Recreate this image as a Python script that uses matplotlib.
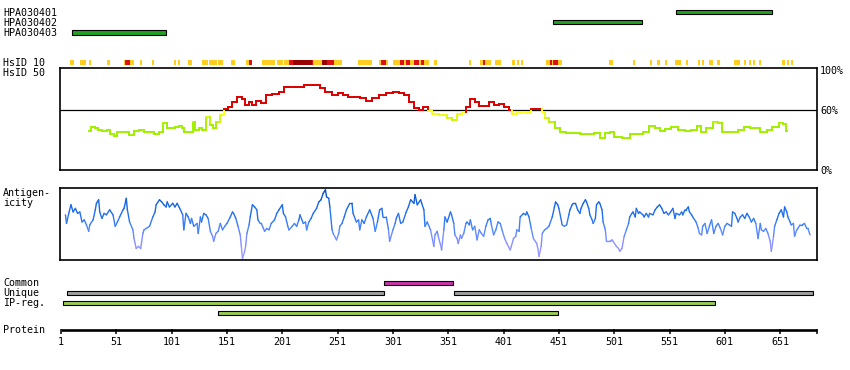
import numpy as np
import matplotlib
matplotlib.use("Agg")
import matplotlib.pyplot as plt
from matplotlib.collections import LineCollection
from matplotlib.colors import LinearSegmentedColormap, to_rgb

plt.rcParams['font.family'] = ['DejaVu Sans Mono']
plt.rcParams['font.size'] = 7.2

protein_length = 684

# antibody antigens (residue ranges)
antibody_names = ["HPA030401", "HPA030402", "HPA030403"]
antibody_start = [557, 446, 11]
antibody_end = [644, 526, 96]

# HsID 10 strip, one list per identity class
hsid10_yellow = [(9, 13), (18, 24), (26, 28), (43, 45), (58, 67), (72, 74), (83, 85),
                 (103, 105), (107, 109), (116, 119), (128, 134), (135, 142), (143, 147),
                 (155, 158), (168, 174), (183, 194), (196, 202), (203, 207), (229, 237),
                 (248, 255), (269, 282), (288, 297), (301, 334), (338, 341), (370, 372),
                 (380, 390), (393, 399), (409, 411), (413, 415), (417, 419), (439, 454),
                 (496, 500), (518, 520), (533, 535), (540, 542), (547, 549), (556, 561),
                 (566, 568), (577, 579), (580, 582), (587, 590), (594, 597), (609, 615),
                 (618, 620), (623, 625), (626, 628), (632, 634), (653, 655), (657, 659),
                 (661, 663)]
hsid10_red = [(59, 63), (171, 174), (207, 211), (228, 229), (241, 248), (290, 295),
              (307, 311), (313, 316), (320, 325), (326, 329), (382, 384), (443, 445),
              (446, 450)]
hsid10_darkred = [(211, 228), (237, 241)]

# HsID 50 identity (%)
hsid50_pos = [26, 30, 33, 36, 41, 44, 47, 50, 53, 60,
              65, 69, 74, 78, 83, 87, 92, 95, 98, 102,
              106, 109, 111, 114, 119, 121, 124, 127, 130, 135,
              137, 140, 143, 146, 150, 154, 158, 163, 166, 169,
              172, 175, 179, 184, 188, 196, 200, 205, 210, 217,
              225, 233, 238, 242, 249, 253, 258, 263, 269, 274,
              280, 285, 291, 298, 304, 309, 313, 318, 323, 326,
              331, 334, 339, 347, 353, 356, 361, 366, 369, 373,
              377, 380, 385, 390, 394, 399, 404, 407, 410, 415,
              421, 424, 427, 434, 437, 440, 445, 450, 454, 461,
              480, 486, 491, 495, 499, 503, 513, 518, 524, 530,
              535, 540, 544, 549, 556, 562, 568, 573, 578, 581,
              587, 593, 597, 600, 609, 617, 620, 628, 638, 641,
              647, 652, 655, 657]
hsid50_val = [39.5, 43.6, 41.9, 40.2, 39.2, 40.2, 36.2, 34.2, 38.5, 38.2,
              35.2, 39.5, 40.2, 37.9, 38.5, 36.2, 38.2, 46.9, 41.9, 42.5,
              43.6, 44.2, 41.9, 38.5, 38.5, 48.6, 40.2, 42.5, 40.2, 52.9,
              45.2, 41.9, 48.6, 55.3, 61, 63.6, 68.7, 73, 71, 65.3,
              68.7, 65.3, 69.7, 67.7, 75.4, 76.4, 78.7, 83.8, 83.1, 83.8,
              85.4, 85.4, 82.1, 78.1, 75.4, 77.1, 75.4, 73.7, 73, 72,
              69.7, 72, 75.4, 77.7, 78.7, 77.7, 75.4, 68.7, 62, 60.3,
              63.6, 59.6, 56.3, 55.3, 51.9, 50.3, 56.3, 58.6, 63.6, 71,
              68.7, 64.3, 64.3, 68.7, 65.3, 66.3, 63.6, 60.3, 56.3, 57.6,
              58.6, 57, 61, 61, 58.6, 51.9, 48.6, 41.9, 38.5, 36.9,
              36.2, 36.9, 31.8, 36.9, 38.5, 32.8, 31.8, 36.2, 36.2, 38.5,
              44.2, 41.9, 39.5, 40.9, 43.6, 40.2, 39.5, 40.2, 44.2, 38.5,
              41.9, 48.6, 46.9, 38.5, 38.5, 40.2, 42.9, 41.9, 38.5, 40.2,
              43.6, 46.9, 46.2, 39.5]

# antigenicity profile (relative score, 0-100)
antigen_pos = [5, 6, 8, 10, 12, 14, 16, 18, 20, 22,
               24, 26, 27, 30, 32, 33, 35, 36, 38, 40,
               42, 45, 48, 50, 52, 54, 57, 58, 60, 61,
               63, 66, 67, 69, 71, 73, 75, 76, 78, 81,
               84, 86, 87, 90, 92, 94, 96, 97, 99, 102,
               104, 106, 109, 111, 112, 114, 116, 118, 119, 121,
               124, 125, 127, 128, 130, 132, 134, 136, 138, 139,
               141, 143, 145, 147, 149, 151, 154, 156, 157, 159,
               161, 163, 164, 165, 167, 168, 169, 171, 172, 174,
               176, 178, 179, 181, 182, 184, 185, 187, 189, 191,
               194, 196, 198, 201, 202, 204, 206, 207, 210, 212,
               214, 216, 217, 220, 222, 223, 225, 227, 229, 232,
               234, 236, 238, 240, 241, 243, 244, 246, 247, 250,
               252, 253, 255, 257, 259, 262, 264, 265, 268, 270,
               271, 273, 275, 277, 280, 283, 285, 287, 289, 291,
               292, 295, 297, 298, 301, 303, 304, 306, 308, 310,
               313, 315, 317, 320, 321, 323, 326, 327, 329, 330,
               332, 335,
               338, 339, 341, 342, 344, 345, 347, 348, 350, 353,
               354, 356, 357, 359, 360, 362, 363, 365, 367, 368,
               370, 371, 373, 375, 377, 379, 381, 383, 385, 387,
               389, 390, 392, 394, 396, 398, 400, 402, 404, 407,
               408, 410, 412, 413, 415, 416, 419, 421, 422, 424,
               426, 428, 431, 432, 433, 435, 436, 438, 440, 442,
               445, 447, 448, 450, 451, 454, 456, 458, 460, 461,
               463, 464, 466, 468, 470, 471, 473, 475, 476, 478,
               479, 481, 482, 484, 485, 487, 488, 490, 491, 493,
               494, 497, 499, 500, 503, 505, 506, 508, 510, 512,
               514, 515, 517, 518, 520, 521, 523, 524, 527, 528,
               530, 532, 533, 536, 538, 540, 542, 544, 546, 548,
               550, 552, 554, 556, 557, 560, 562, 563, 565, 566,
               568, 569, 571, 572, 575, 577, 578, 580, 581, 583,
               585, 587, 589, 591, 593, 595, 597, 599, 601, 603,
               605, 607, 608, 610, 612, 613, 615, 617, 619, 621,
               623, 625, 627, 629, 631, 633, 634, 636, 638, 640,
               642, 643, 645, 646, 648, 650, 652, 654, 655, 657,
               658, 660, 661, 663, 664, 666, 667, 669, 671, 673,
               675, 676, 678]
antigen_val = [63, 51, 65, 77, 67, 72, 65, 67, 53, 56,
               49, 40, 49, 56, 70, 79, 84, 67, 58, 65,
               63, 70, 63, 47, 53, 60, 70, 72, 86, 70,
               53, 42, 30, 16, 19, 16, 37, 42, 44, 47,
               60, 67, 77, 84, 81, 77, 74, 81, 74, 79,
               74, 79, 70, 63, 42, 65, 60, 51, 58, 47,
               51, 37, 60, 53, 65, 63, 58, 40, 33, 26,
               37, 40, 51, 42, 47, 51, 60, 67, 65, 58,
               47, 35, 19, 2, 12, 21, 37, 49, 60, 77,
               74, 70, 56, 51, 51, 44, 40, 44, 42, 51,
               56, 65, 70, 77, 65, 60, 47, 42, 47, 51,
               47, 56, 63, 51, 53, 42, 53, 58, 65, 72,
               81, 84, 93, 98, 88, 86, 74, 42, 37, 28,
               37, 47, 51, 60, 70, 79, 79, 65, 53, 56,
               42, 56, 51, 60, 70, 58, 40, 53, 70, 72,
               60, 60, 42, 26, 42, 51, 58, 65, 51, 53,
               67, 74, 84, 79, 91, 77, 84, 79, 70, 47,
               53, 42,
               19, 35, 40, 33, 21, 14, 42, 60, 53, 67,
               63, 51, 35, 30, 23, 35, 30, 37, 51, 53,
               49, 56, 42, 47, 28, 42, 37, 33, 47, 56,
               58, 49, 35, 42, 53, 51, 40, 30, 23, 14,
               19, 30, 33, 42, 40, 60, 65, 63, 67, 60,
               44, 30, 23, 16, 5, 19, 37, 42, 44, 47,
               60, 74, 81, 77, 72, 49, 47, 49, 63, 70,
               77, 79, 79, 70, 65, 72, 79, 84, 81, 72,
               63, 56, 51, 58, 77, 81, 79, 70, 53, 42,
               26, 26, 28, 26, 19, 16, 12, 16, 33, 42,
               51, 60, 65, 67, 60, 72, 65, 67, 63, 60,
               65, 60, 65, 63, 70, 74, 77, 72, 65, 67,
               63, 67, 72, 58, 65, 63, 67, 63, 70, 70,
               74, 67, 63, 60, 53, 44, 37, 35, 47, 51,
               37, 47, 56, 37, 47, 51, 44, 35, 47, 51,
               49, 47, 67, 65, 58, 53, 60, 63, 58, 65,
               60, 53, 58, 51, 30, 51, 42, 40, 44, 37,
               26, 12, 33, 47, 56, 65, 70, 60, 74, 67,
               60, 53, 49, 51, 33, 42, 44, 49, 49, 51,
               44, 44, 35]

# region tracks
common_regions = [(293, 355)]
unique_regions = [(6, 293), (356, 681)]
ipreg_regions = [(3, 592), (143, 450)]
tick_residues = list(range(1, 652, 50))

# ---- layout -------------------------------------------------------------
W, H = 850, 370
PX_PER_RES = 1.1064
RES1_PX = 61


def res_at(px):
    return 1 + (px - RES1_PX) / PX_PER_RES


def steps(x, y):
    x = np.asarray(x, float)
    y = np.asarray(y, float)
    mid = (x[:-1] + x[1:]) / 2
    xs = np.concatenate([[x[0]], np.repeat(mid, 2), [x[-1]]])
    ys = np.repeat(y, 2)
    pts = np.column_stack([xs, ys])
    return np.stack([pts[:-1], pts[1:]], axis=1)


def polyline(x, y):
    pts = np.column_stack([np.asarray(x, float), np.asarray(y, float)])
    return np.stack([pts[:-1], pts[1:]], axis=1)


def hsid_color(v):
    if v >= 60:
        return to_rgb('#dd0000')
    t = np.clip((v - 45) / 13.0, 0, 1)
    g = np.array(to_rgb('#a0f000'))
    yl = np.array(to_rgb('#ffff20'))
    return tuple(g + (yl - g) * t)


fig = plt.figure(figsize=(W / 100, H / 100), dpi=100)
base = fig.add_axes([0, 0, 1, 1])
base.set_xlim(res_at(0), res_at(W))
base.set_ylim(H, 0)
base.axis('off')

lx = res_at(3)
for name, yb in zip(antibody_names, [16.5, 26.5, 36.2]):
    base.text(lx, yb, name, va='baseline', ha='left')
for lab, yb in [("HsID 10", 65.7), ("HsID 50", 75.7), ("Antigen-", 195.7),
                ("icity", 205.8), ("Common", 286), ("Unique", 296),
                ("IP-reg.", 306), ("Protein", 333.3)]:
    base.text(lx, yb, lab, va='baseline', ha='left')

# antibody bars
base.barh([12.3, 22.3, 32.5], np.array(antibody_end) - np.array(antibody_start),
          left=antibody_start, height=4.2, color='#22a022',
          edgecolor='black', linewidth=0.8)

# HsID 10 strip
for segs, col in [(hsid10_yellow, '#ffcc22'), (hsid10_red, '#dd1111'),
                  (hsid10_darkred, '#990000')]:
    s = np.array(segs)
    base.barh(np.full(len(s), 62.5), s[:, 1] - s[:, 0], left=s[:, 0],
              height=5.2, color=col, linewidth=0)

# region bars
def region_bars(regions, rows, col):
    r = np.array(regions)
    base.barh(rows, r[:, 1] - r[:, 0], left=r[:, 0], height=4,
              color=col, edgecolor='black', linewidth=0.8)

region_bars(common_regions, [282.5], '#cc33aa')
region_bars(unique_regions, [292.5, 292.5], '#a0a0a0')
region_bars(ipreg_regions, [302.5, 312.5], '#99cc55')

# protein ruler
base.plot([1, protein_length], [329.5, 329.5], color='black', lw=1.9,
          solid_capstyle='butt')
base.vlines(tick_residues + [protein_length], 328.5, 333.6, color='black', lw=1.1)
for t in tick_residues:
    base.text(t, 345, str(t), ha='center', va='baseline')

# ---- HsID 50 panel ------------------------------------------------------
x_lo, x_hi = res_at(60.3), res_at(817.3)
ax1 = fig.add_axes([60.3 / W, 1 - 170 / H, 757 / W, 101.7 / H])
ax1.set_xlim(x_lo, x_hi)
ax1.set_ylim(0, 102.2)
ax1.axhline(60, color='black', lw=0.9)
segs = steps(hsid50_pos, hsid50_val)
cols = [hsid_color(s[:, 1].mean()) for s in segs]
ax1.add_collection(LineCollection(segs, colors=cols, linewidths=1.4,
                                  capstyle='projecting'))
ax1.set_xticks([])
ax1.yaxis.tick_right()
ax1.set_yticks([0, 60, 100])
ax1.set_yticklabels(["0%", "60%", "100%"])
ax1.tick_params(axis='y', length=0, pad=2)
for sp in ax1.spines.values():
    sp.set_linewidth(1.2)

# ---- antigenicity panel -------------------------------------------------
ax2 = fig.add_axes([60.3 / W, 1 - 260 / H, 757 / W, 71.7 / H])
ax2.set_xlim(x_lo, x_hi)
ax2.set_ylim(0, 100)
ag_cmap = LinearSegmentedColormap.from_list(
    'ag', [(0, '#a0a0ff'), (0.25, '#8890ff'), (0.45, '#4a86ff'),
           (0.6, '#2472f0'), (0.8, '#1464e0'), (1.0, '#0048b0')])
segs = polyline(antigen_pos, antigen_val)
lc = LineCollection(segs, cmap=ag_cmap, linewidths=1.0, capstyle='round')
lc.set_array(np.array([s[:, 1].mean() for s in segs]))
lc.set_clim(0, 100)
ax2.add_collection(lc)
ax2.set_xticks([])
ax2.set_yticks([])
for sp in ax2.spines.values():
    sp.set_linewidth(1.2)

fig.savefig("out.png", dpi=100)
